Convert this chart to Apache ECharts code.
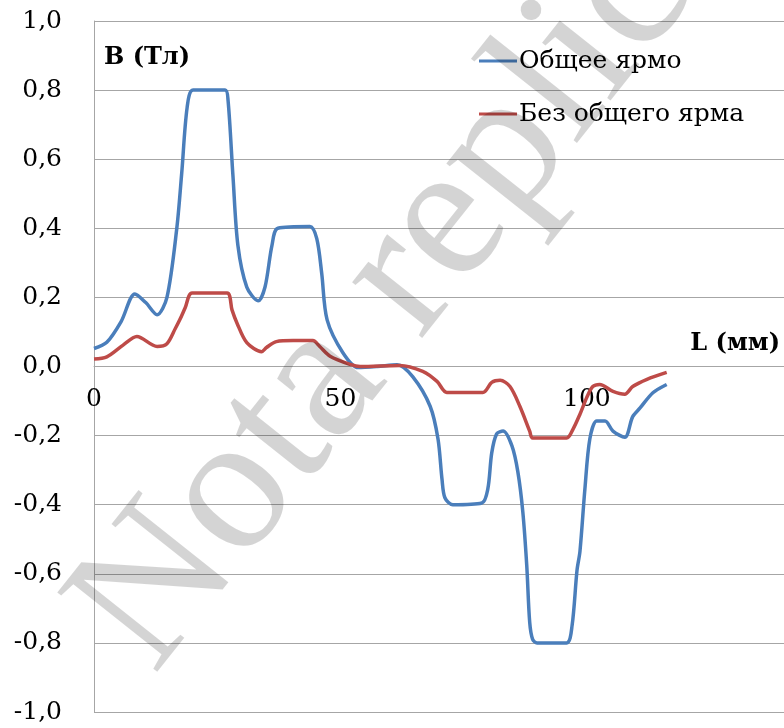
<!DOCTYPE html>
<html>
<head>
<meta charset="utf-8">
<script src="https://cdn.jsdelivr.net/npm/echarts@6/dist/echarts.min.js"></script>
<style>
  html, body { margin: 0; padding: 0; background: #fff; }
  #chart { width: 784px; height: 728px; }
</style>
</head>
<body>
<div id="chart"></div>
<script>
// Magnetic flux density B along the path L, with and without a common yoke
const seriesNames = ['Общее ярмо', 'Без общего ярма'];

const yokeL = [0, 2.6, 5.5, 8.3, 10.5, 12.8, 14.8, 16.8, 17.8, 18.9, 20.1, 26.6, 27.2, 28.2, 29.2, 31, 33.3, 34.7, 36.1, 37.3,
  43.8, 45.2, 46.2, 47.3, 50.5, 53.6, 57.5, 61.5, 64.7, 68.2, 69.8, 70.6, 71.2, 72.8, 78.7, 79.9, 80.7, 81.7, 83.0, 84.8,
  86, 87, 87.8, 88.4, 89.0, 89.9, 95.9, 97, 98, 98.6, 99.6, 100.6, 102, 103.7, 105.3, 107.7, 109.3, 110.8, 113.4, 116.2];
const yokeB = [0.052, 0.07, 0.13, 0.21, 0.185, 0.15, 0.20, 0.40, 0.56, 0.75, 0.80, 0.80, 0.77, 0.55, 0.35, 0.23, 0.19, 0.23, 0.35, 0.40,
  0.405, 0.37, 0.27, 0.135, 0.04, -0.003, 0.0, 0.005, -0.03, -0.115, -0.21, -0.325, -0.38, -0.40, -0.395, -0.355, -0.25, -0.195, -0.187, -0.23,
  -0.305, -0.42, -0.575, -0.74, -0.79, -0.80, -0.80, -0.75, -0.59, -0.535, -0.355, -0.21, -0.158, -0.158, -0.187, -0.205, -0.145, -0.12, -0.076, -0.052];

const noYokeL = [0, 2.6, 5.9, 8.7, 12.8, 14.8, 16.5, 17.4, 18.5, 19.9, 27, 28, 29, 31, 34, 35, 37, 40.4, 44.4, 45.8,
  47.9, 52, 54, 62, 66.7, 69.6, 71.6, 78.9, 80.7, 82.4, 84.4, 86.4, 88.4, 89, 95.9, 97.2, 98.6, 100, 101.2, 102.6,
  105.3, 107.7, 109.3, 112.2, 116.2];
const noYokeB = [0.022, 0.028, 0.062, 0.087, 0.058, 0.066, 0.11, 0.135, 0.17, 0.213, 0.213, 0.164, 0.126, 0.069, 0.043, 0.055, 0.072, 0.075, 0.075, 0.058,
  0.03, 0.006, 0, 0.003, -0.014, -0.043, -0.075, -0.075, -0.046, -0.04, -0.058, -0.115, -0.187, -0.207, -0.207, -0.181, -0.138, -0.089, -0.058, -0.052,
  -0.072, -0.08, -0.058, -0.037, -0.017];

const xTicks = [0, 50, 100];
const yMin = -1, yMax = 1, yStep = 0.2;

const pairs = (xs, ys) => xs.map((x, i) => [x, ys[i]]);
const FONT = 'DejaVu Serif';
const GRID_COLOR = '#a6a6a6';

// plot box
const GRID_TOP = 21, GRID_BOTTOM = 16, CHART_H = 728;
const plotH = CHART_H - GRID_TOP - GRID_BOTTOM;
// the L axis sits where B = 0
const zeroFromBottom = plotH * (0 - yMin) / (yMax - yMin);

const chart = echarts.init(document.getElementById('chart'), null, { renderer: 'canvas' });
chart.setOption({
  animation: false,
  backgroundColor: '#ffffff',
  grid: { left: 94, right: 0, top: GRID_TOP, bottom: GRID_BOTTOM, containLabel: false, outerBoundsMode: 'none' },
  legend: {
    orient: 'vertical',
    left: 474,
    top: 43,
    itemWidth: 38,
    itemHeight: 3,
    itemGap: 27,
    icon: 'rect',
    textStyle: { fontFamily: FONT, fontSize: 25, color: '#000', lineHeight: 26, padding: [0, 0, 0, -3] },
    data: seriesNames
  },
  xAxis: {
    type: 'value',
    min: 0,
    max: 140,
    interval: 50,
    position: 'bottom',
    offset: -zeroFromBottom,
    axisLine: { show: true, onZero: false, lineStyle: { color: GRID_COLOR, width: 1 } },
    axisTick: { show: false },
    splitLine: { show: false },
    axisLabel: {
      showMaxLabel: false,
      margin: 20,
      fontFamily: FONT, fontSize: 25, color: '#000',
      formatter: v => (xTicks.indexOf(v) >= 0 ? String(v) : '')
    }
  },
  yAxis: {
    type: 'value',
    min: yMin,
    max: yMax,
    interval: yStep,
    axisLine: { show: true, onZero: false, lineStyle: { color: GRID_COLOR, width: 1 } },
    axisTick: { show: false },
    splitLine: { show: true, lineStyle: { color: GRID_COLOR, width: 1 } },
    axisLabel: {
      margin: 32,
      fontFamily: FONT, fontSize: 25, color: '#000',
      padding: [8, 0, 0, 0],
      formatter: v => v.toFixed(1).replace('.', ',')
    }
  },
  series: [
    {
      name: seriesNames[0],
      type: 'line',
      data: pairs(yokeL, yokeB),
      smooth: 0.3,
      showSymbol: false,
      lineStyle: { color: '#4a7ebb', width: 3.5 },
      itemStyle: { color: '#4a7ebb' }
    },
    {
      name: seriesNames[1],
      type: 'line',
      data: pairs(noYokeL, noYokeB),
      smooth: 0.3,
      showSymbol: false,
      lineStyle: { color: '#be4b48', width: 3.5 },
      itemStyle: { color: '#be4b48' }
    }
  ],
  graphic: [
    {
      type: 'text', left: 104, top: 46,
      style: { text: 'B (Тл)', fontFamily: FONT, fontWeight: 'bold', fontSize: 24, fill: '#000' }
    },
    {
      type: 'text', right: 4, top: 332,
      style: { text: 'L (мм)', fontFamily: FONT, fontWeight: 'bold', fontSize: 24, fill: '#000' }
    },
    {
      type: 'text', x: 190, y: 705, rotation: 0.9, z: 100,
      style: {
        text: 'Nota replica', fontFamily: 'Liberation Serif', fontSize: 195,
        fill: 'rgba(0,0,0,0.17)', textAlign: 'left', textVerticalAlign: 'bottom'
      }
    }
  ]
});
</script>
</body>
</html>
